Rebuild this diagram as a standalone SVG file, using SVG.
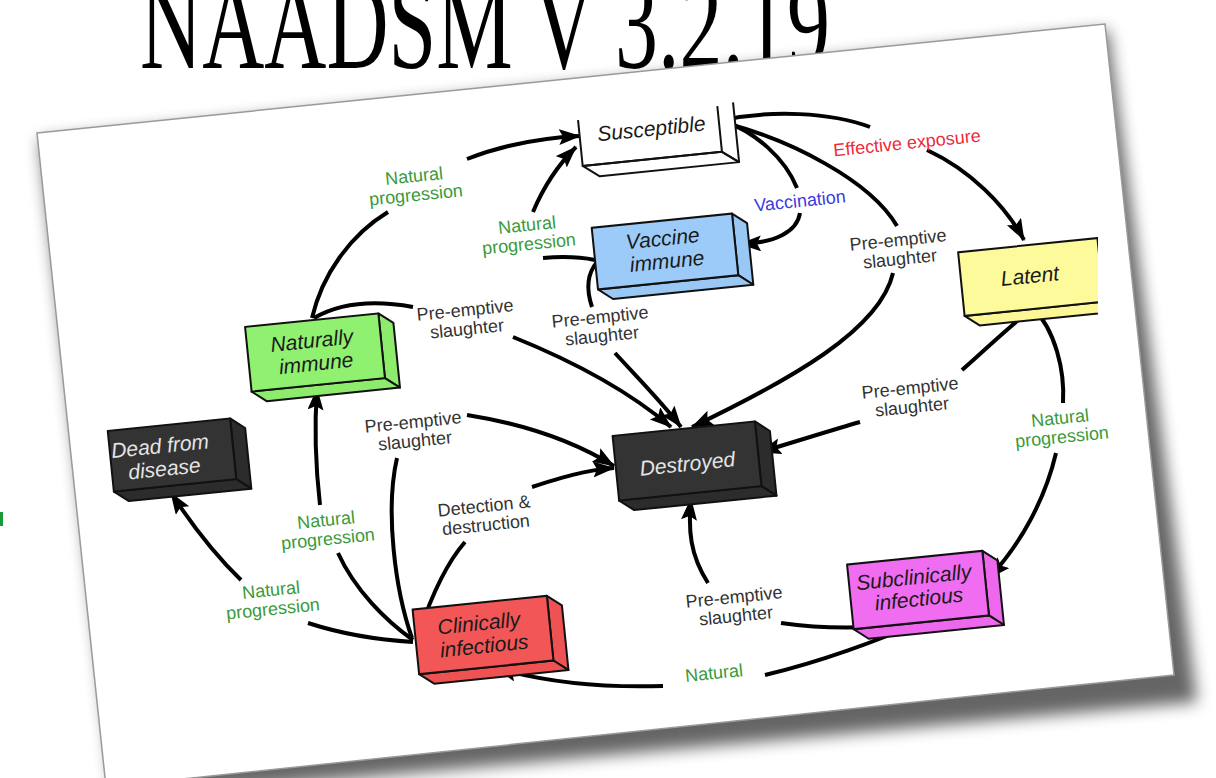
<svg xmlns="http://www.w3.org/2000/svg" width="1216" height="778" viewBox="0 0 1216 778">
<defs>
  <marker id="ah" markerUnits="userSpaceOnUse" markerWidth="24" markerHeight="18" refX="21" refY="8" orient="auto">
    <path d="M0,0 L22,8 L0,16 L4,8 z" fill="#000"/>
  </marker>
  <filter id="sh" x="-10%" y="-10%" width="130%" height="130%"><feGaussianBlur stdDeviation="8"/></filter>
  <clipPath id="clipR"><rect x="0" y="0" width="1098" height="778"/></clipPath>
</defs>
<style>
  .lbl{font-family:"Liberation Sans",Arial,sans-serif;font-size:18px;text-anchor:middle}
  .k{fill:#333}
  .g{fill:#3a9a3a}
  .r{fill:#ee2a3a}
  .b{fill:#3b3be0}
  .bt{font-family:"Liberation Sans",Arial,sans-serif;font-size:21px;font-style:italic;text-anchor:middle;fill:#1a1a1a}
  .bw{fill:#e4e4e4}
  .face{stroke:#111;stroke-width:2;stroke-linejoin:round}
  .cn path{fill:none;stroke:#000;stroke-width:4;stroke-linecap:butt}
  .cn path.a{marker-end:url(#ah)}
</style>
<rect width="1216" height="778" fill="#fff"/>
<text x="140" y="68" font-family="Liberation Serif, serif" font-size="132" textLength="690" lengthAdjust="spacingAndGlyphs" fill="#000">NAADSM V 3.2.19</text>
<rect x="0" y="512" width="3" height="14" fill="#1a9a3a"/>
<!-- page -->
<polygon points="40,140 1108,30 1197,702 115,800" fill="#000" opacity="0.6" filter="url(#sh)"/>
<polygon points="37,133 1105,24 1174,675 106,787" fill="#fff" stroke="#9a9a9a" stroke-width="1.5"/>

<!-- connectors -->
<g id="connectors" class="cn">
  <path d="M312,318 C322,275 350,235 388,212"/>
  <path class="a" d="M467,159 C500,146 540,138 580,136"/>
  <path d="M595,260 C575,256 555,257 543,258"/>
  <path class="a" d="M533,212 C543,188 558,165 576,147"/>
  <path d="M724,121 C755,132 785,158 797,188"/>
  <path class="a" d="M800,213 C797,232 775,243 740,244"/>
  <path d="M724,120 C770,110 830,112 870,127"/>
  <path class="a" d="M927,150 C970,170 1005,205 1024,240"/>
  <path d="M725,123 C790,140 870,180 897,226"/>
  <path class="a" d="M893,273 C880,330 790,380 692,427"/>
  <path d="M314,318 C340,303 375,300 413,307"/>
  <path class="a" d="M513,337 C575,362 630,392 671,427"/>
  <path d="M597,262 C586,275 587,292 592,307"/>
  <path class="a" d="M615,353 C635,375 660,400 681,427"/>
  <path d="M1033,308 C1005,330 985,350 962,370"/>
  <path class="a" d="M860,422 C825,432 795,442 760,452"/>
  <path d="M1033,308 C1055,330 1065,370 1063,403"/>
  <path class="a" d="M1056,453 C1045,500 1020,545 989,578"/>
  <path d="M412,638 C395,590 385,510 397,458"/>
  <path class="a" d="M467,415 C530,425 580,445 614,466"/>
  <path d="M419,633 C430,600 445,565 465,542"/>
  <path class="a" d="M532,487 C560,478 585,470 614,468"/>
  <path d="M413,640 C385,620 355,590 338,553"/>
  <path class="a" d="M320,505 C316,470 314,430 317,389"/>
  <path d="M413,642 C380,640 345,635 308,623"/>
  <path class="a" d="M241,580 C215,555 192,525 171,493"/>
  <path d="M920,622 C880,640 820,662 765,675"/>
  <path class="a" d="M663,686 C600,688 545,682 496,668"/>
  <path d="M922,622 C880,628 830,630 781,623"/>
  <path class="a" d="M708,583 C690,555 688,530 691,499"/>
</g>

<!-- nodes -->
<g id="susceptible" transform="translate(650,136) rotate(-5.8)">
  <path d="M-70,-23 V23 H70 V-23 Z" fill="#fff"/>
  <polygon points="70,-23 86,-23 86,35 70,23" fill="#fff"/>
  <polygon class="face" points="-70,23 70,23 86,35 -54,35" fill="#fff"/>
  <path class="face" fill="none" d="M-70,-23 V23 H70 V-23 M86,-25 V35 L70,23"/>
  <text class="bt" x="2" y="0">Susceptible</text>
</g>
<g id="vaccine-immune" transform="translate(665,251.5) rotate(-5.8)">
  <polygon class="face" points="70.5,-31 84.5,-20 84.5,42 70.5,31" fill="#99c8f5"/>
  <polygon class="face" points="-70.5,31 70.5,31 84.5,42 -56.5,42" fill="#99c8f5"/>
  <rect class="face" x="-70.5" y="-31" width="141" height="62" fill="#9ccbfa"/>
  <text class="bt" x="-1" y="-6">Vaccine</text>
  <text class="bt" x="1" y="17">immune</text>
</g>
<g id="naturally-immune" transform="translate(315,352.5) rotate(-5.8)">
  <polygon class="face" points="67,-32.5 81,-21.5 81,43.5 67,32.5" fill="#8eec6c"/>
  <polygon class="face" points="-67,32.5 67,32.5 81,43.5 -53,43.5" fill="#8eec6c"/>
  <rect class="face" x="-67" y="-32.5" width="134" height="65" fill="#90f070"/>
  <text class="bt" x="-2" y="-5">Naturally</text>
  <text class="bt" x="0" y="18">immune</text>
</g>
<g clip-path="url(#clipR)">
  <g id="latent" transform="translate(1031,277) rotate(-5.8)">
    <polygon class="face" points="70,-32 84,-21 84,43 70,32" fill="#fbf796"/>
    <polygon class="face" points="-70,32 70,32 84,43 -56,43" fill="#fbf796"/>
    <rect class="face" x="-70" y="-32" width="140" height="64" fill="#fdfa9c"/>
    <text class="bt" x="-1" y="6">Latent</text>
  </g>
</g>
<g id="destroyed" transform="translate(687,461) rotate(-5.8)">
  <polygon class="face" points="71.5,-32.5 85.5,-21.5 85.5,43.5 71.5,32.5" fill="#2c2c2c"/>
  <polygon class="face" points="-71.5,32.5 71.5,32.5 85.5,43.5 -57.5,43.5" fill="#2c2c2c"/>
  <rect class="face" x="-71.5" y="-32.5" width="143" height="65" fill="#333"/>
  <text class="bt bw" x="0" y="10">Destroyed</text>
</g>
<g id="dead-from-disease" transform="translate(172,455) rotate(-5.8)">
  <polygon class="face" points="61.5,-30.5 75.5,-19.5 75.5,41.5 61.5,30.5" fill="#2c2c2c"/>
  <polygon class="face" points="-61.5,30.5 61.5,30.5 75.5,41.5 -47.5,41.5" fill="#2c2c2c"/>
  <rect class="face" x="-61.5" y="-30.5" width="123" height="61" fill="#333"/>
  <text class="bt bw" x="-11" y="-3">Dead from</text>
  <text class="bt bw" x="-9" y="20">disease</text>
</g>
<g id="clinically-infectious" transform="translate(483,635) rotate(-5.8)">
  <polygon class="face" points="67.5,-32.5 81.5,-21.5 81.5,43.5 67.5,32.5" fill="#ef5252"/>
  <polygon class="face" points="-67.5,32.5 67.5,32.5 81.5,43.5 -53.5,43.5" fill="#ef5252"/>
  <rect class="face" x="-67.5" y="-32.5" width="135" height="65" fill="#f25656"/>
  <text class="bt" x="-3" y="-5">Clinically</text>
  <text class="bt" x="0" y="18">infectious</text>
</g>
<g id="subclinically-infectious" transform="translate(918,590) rotate(-5.8)">
  <polygon class="face" points="68,-32.5 82,-21.5 82,43.5 68,32.5" fill="#ee68ee"/>
  <polygon class="face" points="-68,32.5 68,32.5 82,43.5 -54,43.5" fill="#ee68ee"/>
  <rect class="face" x="-68" y="-32.5" width="136" height="65" fill="#f06cf0"/>
  <text class="bt" x="-3" y="-6">Subclinically</text>
  <text class="bt" x="0" y="16">infectious</text>
</g>

<!-- labels -->
<g id="labels" class="lbl">
  <text class="g" transform="translate(414,176) rotate(-5.8)"><tspan x="0" y="6">Natural</tspan><tspan x="0" y="25">progression</tspan></text>
  <text class="g" transform="translate(527,225) rotate(-5.8)"><tspan x="0" y="6">Natural</tspan><tspan x="0" y="25">progression</tspan></text>
  <text class="b" transform="translate(800,201) rotate(-5.8)"><tspan x="0" y="6">Vaccination</tspan></text>
  <text class="r" transform="translate(907,143) rotate(-5.8)"><tspan x="0" y="6">Effective exposure</tspan></text>
  <text class="k" transform="translate(898,240) rotate(-5.8)"><tspan x="0" y="6">Pre-emptive</tspan><tspan x="0" y="25">slaughter</tspan></text>
  <text class="k" transform="translate(465,310) rotate(-5.8)"><tspan x="0" y="6">Pre-emptive</tspan><tspan x="0" y="25">slaughter</tspan></text>
  <text class="k" transform="translate(600,317) rotate(-5.8)"><tspan x="0" y="6">Pre-emptive</tspan><tspan x="0" y="25">slaughter</tspan></text>
  <text class="k" transform="translate(910,388) rotate(-5.8)"><tspan x="0" y="6">Pre-emptive</tspan><tspan x="0" y="25">slaughter</tspan></text>
  <text class="g" transform="translate(1060,418) rotate(-5.8)"><tspan x="0" y="6">Natural</tspan><tspan x="0" y="25">progression</tspan></text>
  <text class="k" transform="translate(413,422) rotate(-5.8)"><tspan x="0" y="6">Pre-emptive</tspan><tspan x="0" y="25">slaughter</tspan></text>
  <text class="k" transform="translate(484,506) rotate(-5.8)"><tspan x="0" y="6">Detection &amp;</tspan><tspan x="0" y="25">destruction</tspan></text>
  <text class="g" transform="translate(326,520) rotate(-5.8)"><tspan x="0" y="6">Natural</tspan><tspan x="0" y="25">progression</tspan></text>
  <text class="g" transform="translate(271,590) rotate(-5.8)"><tspan x="0" y="6">Natural</tspan><tspan x="0" y="25">progression</tspan></text>
  <text class="k" transform="translate(734,597) rotate(-5.8)"><tspan x="0" y="6">Pre-emptive</tspan><tspan x="0" y="25">slaughter</tspan></text>
  <text class="g" transform="translate(714,673) rotate(-5.8)"><tspan x="0" y="6">Natural</tspan></text>
</g>
</svg>
